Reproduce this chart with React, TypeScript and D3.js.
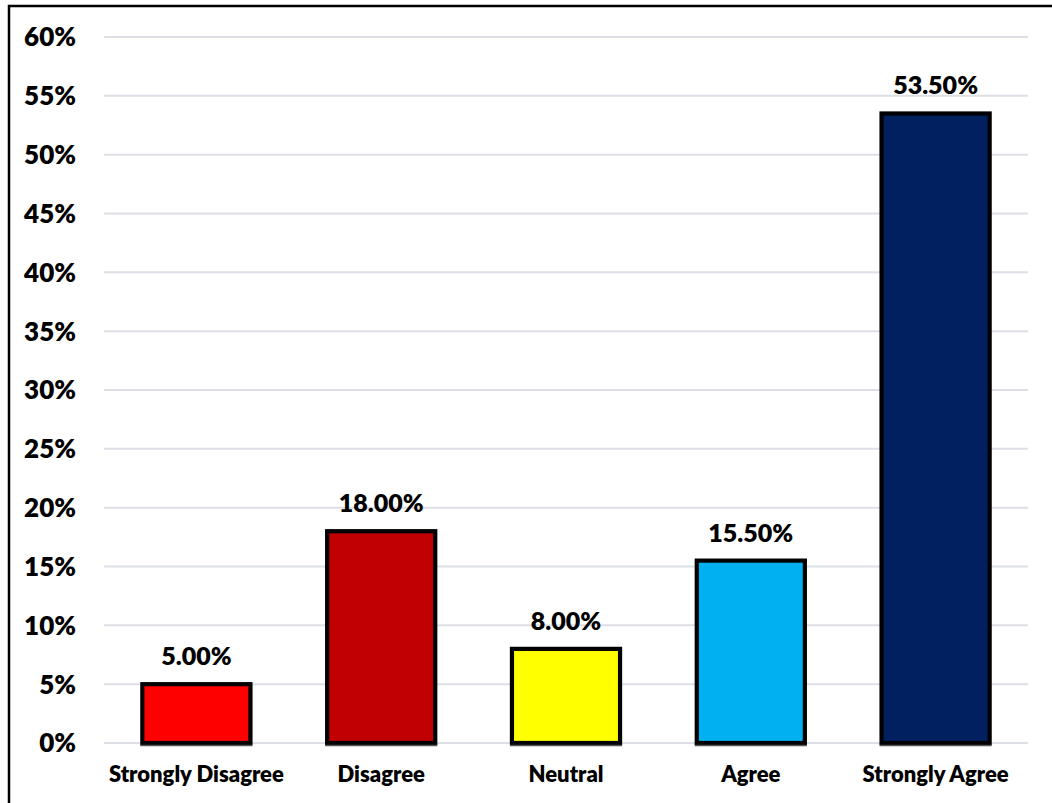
import React from "react";
import * as d3 from "d3";

const categories = ["Strongly Disagree", "Disagree", "Neutral", "Agree", "Strongly Agree"];
const values = [5.0, 18.0, 8.0, 15.5, 53.5];
const colors = ["#FF0000", "#C00000", "#FFFF00", "#00B0F0", "#002060"];
const yTicks = [0, 5, 10, 15, 20, 25, 30, 35, 40, 45, 50, 55, 60];

const W = 1052;
const H = 803;
const left = 104;
const right = 1028;
const top = 37;
const bottom = 743;
const FONT = "Lato, 'Open Sans', sans-serif";

export default function App() {
  const x = d3.scaleBand<string>().domain(categories).range([left, right]).paddingInner(0.415).paddingOuter(0.2075);
  const y = d3.scaleLinear().domain([0, 60]).range([bottom, top]);
  return (
    <svg width={W} height={H} style={{ position: "absolute", left: 0, top: 0, display: "block" }}>
      <rect x={0} y={0} width={W} height={H} fill="#fff" />
      <rect x={9} y={6} width={W + 20} height={H + 20} fill="none" stroke="#000" strokeWidth={2.5} />
      {yTicks.map((t) => (
        <g key={t}>
          <line x1={left} x2={right} y1={y(t)} y2={y(t)} stroke="#DDDFE6" strokeWidth={2} />
          <text x={76} y={y(t)} dy="0.36em" textAnchor="end" fontFamily={FONT} fontWeight={800} fontSize={26} fill="#000">
            {t}%
          </text>
        </g>
      ))}
      {categories.map((c, i) => {
        const bx = x(c)!;
        const bw = x.bandwidth();
        const by = y(values[i]);
        return (
          <g key={c}>
            <rect x={bx} y={by} width={bw} height={y(0) - by} fill={colors[i]} stroke="#000" strokeWidth={4.2} />
            <line x1={bx - 2} x2={bx + bw + 2} y1={y(0) + 2.5} y2={y(0) + 2.5} stroke="#555" strokeWidth={1.5} />
            <text x={bx + bw / 2} y={by - 19} textAnchor="middle" fontFamily={FONT} fontWeight={800} fontSize={25} fill="#000">
              {values[i].toFixed(2)}%
            </text>
            <text x={bx + bw / 2} y={782} textAnchor="middle" fontFamily={FONT} fontWeight={800} fontSize={22} fill="#000">
              {c}
            </text>
          </g>
        );
      })}
    </svg>
  );
}
